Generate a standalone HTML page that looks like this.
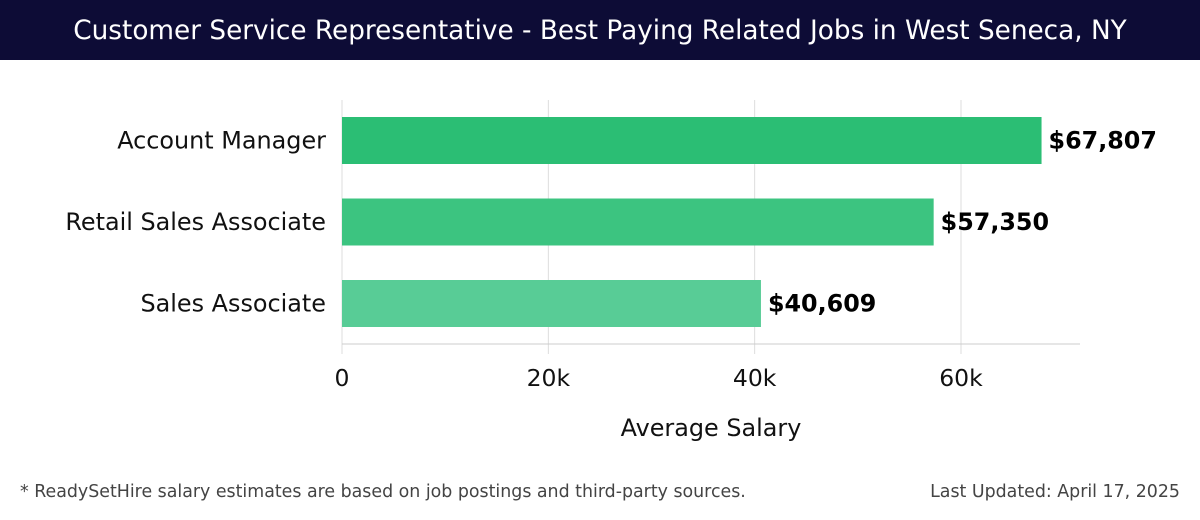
<!DOCTYPE html>
<html><head><meta charset="utf-8"><style>
body{margin:0;width:1200px;height:520px;background:#fff;font-family:"DejaVu Sans","Liberation Sans",sans-serif;overflow:hidden;position:relative}
#title{position:absolute;left:0;top:0;width:1200px;height:60px;background:#0d0c36;color:#fff;font-size:26.3px;line-height:62px;text-align:center;white-space:nowrap}
.foot{position:absolute;top:482px;font-size:17.4px;color:#444;white-space:nowrap}
</style></head><body>
<div id="title">Customer Service Representative - Best Paying Related Jobs in West Seneca, NY</div>
<svg id="chart" width="1200" height="470" style="position:absolute;left:0;top:0"></svg>
<div class="foot" style="left:20px">* ReadySetHire salary estimates are based on job postings and third-party sources.</div>
<div class="foot" style="right:20px">Last Updated: April 17, 2025</div>
<script>
const categories=["Account Manager","Retail Sales Associate","Sales Associate"];
const values=[67807,57350,40609];
const valueLabels=["$67,807","$57,350","$40,609"];
const tickValues=[0,20000,40000,60000];
const tickLabels=["0","20k","40k","60k"];
const colors=["#2bbe74","#3cc480","#58cc96"];
const svg=document.getElementById('chart');
const NS="http://www.w3.org/2000/svg";
const x0=342,pxPer=(961-342)/60000;
const xs=v=>x0+v*pxPer;
const yTop=117,step=81.5,bh=47;
function mk(t,a,p){const e=document.createElementNS(NS,t);for(const k in a)e.setAttribute(k,a[k]);(p||svg).appendChild(e);return e;}
tickValues.forEach((v,i)=>{
 const g=mk('line',{x1:xs(v),x2:xs(v),y1:100,y2:354,stroke:'#ddd','stroke-width':1});
 
 
 const t=mk('text',{x:xs(v),y:386,'font-size':23.5,'text-anchor':'middle',fill:'#111'});
 t.textContent=tickLabels[i];
 
 
});
const ax=mk('line',{x1:x0,x2:1080,y1:344,y2:344,stroke:'#ccc','stroke-width':1});


categories.forEach((c,i)=>{
 const y=yTop+i*step;
 const r=mk('rect',{x:x0,y:y,width:xs(values[i])-x0,height:bh,fill:colors[i]});
 
 
 const l=mk('text',{x:326,y:y+bh/2+8,'font-size':23.9,'text-anchor':'end',fill:'#111'});
 l.textContent=c;
 
 
 const v=mk('text',{x:xs(values[i])+7,y:y+bh/2+8,'font-size':23.8,'font-weight':'bold',fill:'#000'});
 v.textContent=valueLabels[i];
 
 
});
const at=mk('text',{x:711,y:436,'font-size':23.9,'text-anchor':'middle',fill:'#111'});
at.textContent="Average Salary";


</script>
</body></html>
